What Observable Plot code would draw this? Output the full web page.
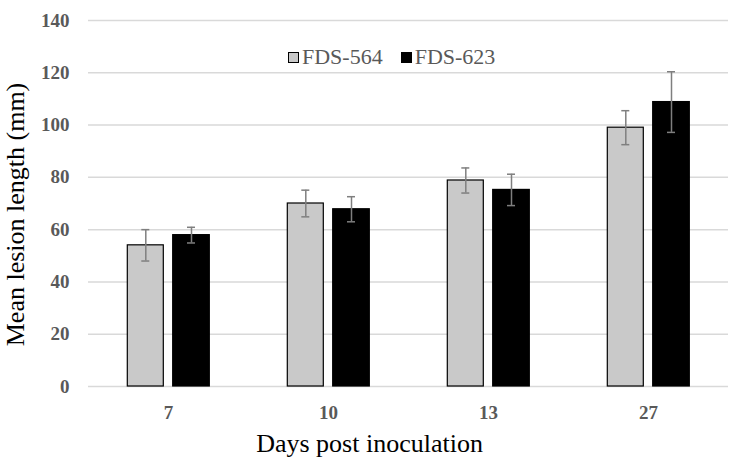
<!DOCTYPE html>
<html>
<head>
<meta charset="utf-8">
<script src="https://cdn.jsdelivr.net/npm/d3@7"></script>
<script src="https://cdn.jsdelivr.net/npm/@observablehq/plot@0.6"></script>
<style>
  html, body { margin: 0; padding: 0; background: #fff; }
  #wrap { position: relative; width: 750px; height: 464px; font-family: "Liberation Serif", "Times New Roman", serif; }
  #legend { position: absolute; top: 44px; left: 288px; display: flex; align-items: center; font-family: "Liberation Serif", "Times New Roman", serif; font-size: 22px; color: #595959; white-space: nowrap; }
  .sw { display: inline-block; width: 11px; height: 11px; box-sizing: border-box; border: 1px solid #000; margin-right: 3px; }
  .item { display: flex; align-items: center; margin-right: 18px; }
</style>
</head>
<body>
<div id="wrap"></div>
<script>
const days = ["7", "10", "13", "27"];
const seriesNames = ["FDS-564", "FDS-623"];
const mean564 = [54, 70, 78.8, 99];
const err564 = [6, 5.1, 4.8, 6.5];
const mean623 = [57.9, 67.8, 75.2, 108.8];
const err623 = [3, 4.8, 6, 11.6];
const yTicks = [0, 20, 40, 60, 80, 100, 120, 140];
const colors = ["#c9c9c9", "#000000"];

const rows564 = days.map((d, i) => ({day: d, series: seriesNames[0], mean: mean564[i], err: err564[i]}));
const rows623 = days.map((d, i) => ({day: d, series: seriesNames[1], mean: mean623[i], err: err623[i]}));

const lo = d => d.mean - d.err;
const hi = d => d.mean + d.err;
const errStyle = {stroke: "#7f7f7f", strokeWidth: 1.5};

const chart = Plot.plot({
  width: 750,
  height: 464,
  marginLeft: 88,
  marginRight: 22,
  marginTop: 20,
  marginBottom: 78,
  style: {fontFamily: "Liberation Serif, serif", background: "#fff"},
  x: {domain: days, padding: 0, axis: null},
  y: {domain: [0, 140], axis: null},
  marks: [
    Plot.ruleY(yTicks, {stroke: "#d9d9d9", strokeWidth: 1.5}),
    Plot.barY(rows564, {x: "day", y: "mean", fill: colors[0], stroke: "#000", strokeWidth: 1.2, insetLeft: 39.3, insetRight: 84.7}),
    Plot.barY(rows623, {x: "day", y: "mean", fill: colors[1], stroke: "#000", strokeWidth: 1.2, insetLeft: 84.7, insetRight: 38.7}),
    Plot.ruleX(rows564, {x: "day", y1: lo, y2: hi, dx: -22.7, ...errStyle}),
    Plot.ruleX(rows623, {x: "day", y1: lo, y2: hi, dx: 23, ...errStyle}),
    Plot.tickY(rows564, {x: "day", y: lo, insetLeft: 53.3, insetRight: 98.7, ...errStyle}),
    Plot.tickY(rows564, {x: "day", y: hi, insetLeft: 53.3, insetRight: 98.7, ...errStyle}),
    Plot.tickY(rows623, {x: "day", y: lo, insetLeft: 99, insetRight: 53, ...errStyle}),
    Plot.tickY(rows623, {x: "day", y: hi, insetLeft: 99, insetRight: 53, ...errStyle}),
    Plot.axisY({ticks: yTicks, tickSize: 0, tickPadding: 19, fontSize: 19, fontWeight: "bold", fill: "#595959", label: null}),
    Plot.axisX({tickSize: 0, tickPadding: 19, fontSize: 19, fontWeight: "bold", fill: "#595959", label: null}),
    Plot.text(["Days post inoculation"], {frameAnchor: "bottom", textAnchor: "middle", lineAnchor: "middle", dx: -39, dy: 57, fontSize: 26, fill: "#000"}),
    Plot.text(["Mean lesion length (mm)"], {frameAnchor: "left", textAnchor: "middle", lineAnchor: "middle", rotate: -90, dx: -73, dy: 11, fontSize: 26, fill: "#000"})
  ]
});

const wrap = document.getElementById("wrap");
wrap.appendChild(chart);

const legend = document.createElement("div");
legend.id = "legend";
seriesNames.forEach((name, i) => {
  const item = document.createElement("span");
  item.className = "item";
  const sw = document.createElement("span");
  sw.className = "sw";
  sw.style.background = colors[i];
  item.appendChild(sw);
  item.appendChild(document.createTextNode(name));
  legend.appendChild(item);
});
wrap.appendChild(legend);
</script>
</body>
</html>
